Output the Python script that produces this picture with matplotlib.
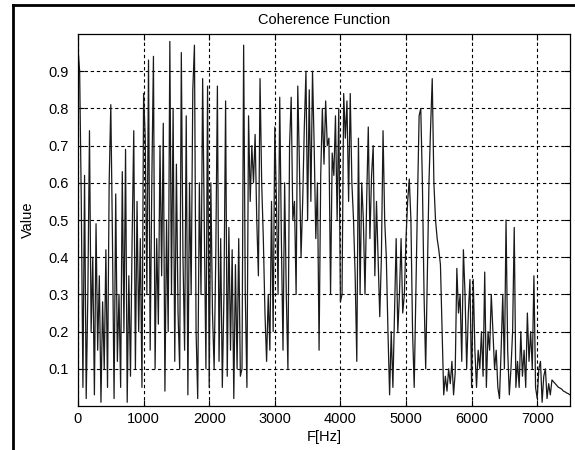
import numpy as np
import matplotlib
matplotlib.use("Agg")
import matplotlib.pyplot as plt
from matplotlib.lines import Line2D

plt.rcParams['font.family'] = ['Liberation Sans', 'DejaVu Sans']

# Coherence values, one every 25 Hz from 0 to 7500 Hz
freq_step = 25
coherence = [
    # 0 - 475
    0.96, 0.90, 0.55, 0.05, 0.62, 0.02, 0.30, 0.74, 0.20, 0.40,
    0.03, 0.49, 0.15, 0.35, 0.01, 0.28, 0.10, 0.42, 0.05, 0.60,
    # 500 - 975
    0.81, 0.45, 0.02, 0.57, 0.12, 0.30, 0.05, 0.63, 0.20, 0.69,
    0.01, 0.35, 0.08, 0.45, 0.74, 0.10, 0.55, 0.20, 0.45, 0.05,
    # 1000 - 1475
    0.84, 0.72, 0.30, 0.93, 0.15, 0.60, 0.94, 0.10, 0.45, 0.22,
    0.70, 0.35, 0.76, 0.04, 0.50, 0.20, 0.98, 0.30, 0.80, 0.12,
    # 1500 - 1975
    0.65, 0.25, 0.10, 0.95, 0.40, 0.15, 0.78, 0.03, 0.60, 0.30,
    0.85, 0.97, 0.20, 0.02, 0.60, 0.30, 0.88, 0.50, 0.10, 0.86,
    # 2000 - 2475
    0.05, 0.60, 0.25, 0.10, 0.40, 0.86, 0.12, 0.45, 0.05, 0.30,
    0.82, 0.08, 0.48, 0.15, 0.42, 0.02, 0.38, 0.10, 0.45, 0.08,
    # 2500 - 2975
    0.10, 0.97, 0.30, 0.05, 0.78, 0.55, 0.70, 0.60, 0.73, 0.50,
    0.35, 0.88, 0.60, 0.45, 0.25, 0.12, 0.30, 0.15, 0.55, 0.20,
    # 3000 - 3475
    0.75, 0.55, 0.30, 0.83, 0.45, 0.15, 0.60, 0.30, 0.10, 0.70,
    0.83, 0.50, 0.55, 0.30, 0.86, 0.65, 0.40, 0.55, 0.75, 0.90,
    # 3500 - 3975
    0.50, 0.85, 0.55, 0.90, 0.70, 0.45, 0.60, 0.15, 0.62, 0.80,
    0.65, 0.82, 0.70, 0.72, 0.30, 0.68, 0.62, 0.78, 0.50, 0.80,
    # 4000 - 4475
    0.28, 0.30, 0.84, 0.72, 0.82, 0.55, 0.84, 0.60, 0.50, 0.35,
    0.12, 0.72, 0.30, 0.60, 0.50, 0.30, 0.55, 0.75, 0.45, 0.62,
    # 4500 - 4975
    0.70, 0.35, 0.55, 0.40, 0.24, 0.40, 0.74, 0.50, 0.40, 0.20,
    0.03, 0.20, 0.05, 0.25, 0.45, 0.20, 0.30, 0.45, 0.25, 0.30,
    # 5000 - 5475
    0.45, 0.55, 0.61, 0.50, 0.20, 0.05, 0.30, 0.55, 0.78, 0.80,
    0.60, 0.30, 0.10, 0.35, 0.60, 0.75, 0.88, 0.60, 0.50, 0.45,
    # 5500 - 5975
    0.42, 0.38, 0.20, 0.03, 0.08, 0.04, 0.10, 0.06, 0.12, 0.03,
    0.09, 0.37, 0.25, 0.30, 0.12, 0.42, 0.30, 0.10, 0.25, 0.34,
    # 6000 - 6475
    0.05, 0.34, 0.15, 0.05, 0.15, 0.10, 0.20, 0.08, 0.36, 0.05,
    0.20, 0.15, 0.30, 0.20, 0.10, 0.15, 0.05, 0.02, 0.15, 0.30,
    # 6500 - 6975
    0.10, 0.50, 0.15, 0.03, 0.10, 0.20, 0.48, 0.05, 0.12, 0.05,
    0.20, 0.08, 0.15, 0.05, 0.25, 0.12, 0.20, 0.10, 0.35, 0.05,
    # 7000 - 7500
    0.02, 0.10, 0.12, 0.01, 0.08, 0.10, 0.02, 0.06, 0.03, 0.07,
    0.065, 0.06, 0.055, 0.05, 0.048, 0.045, 0.04, 0.038, 0.035, 0.033,
    0.03,
]
freqs = np.arange(len(coherence)) * freq_step

x_ticks = [0, 1000, 2000, 3000, 4000, 5000, 6000, 7000]
y_ticks = [0.1, 0.2, 0.3, 0.4, 0.5, 0.6, 0.7, 0.8, 0.9]
y_tick_labels = ['0.1', '0.2', '0.3', '0.4', '0.5', '0.6', '0.7', '0.8', '0.9']

fig = plt.figure(figsize=(5.75, 4.5), dpi=100)
fig.patch.set_facecolor('white')
ax = fig.add_axes([78/575, 1-406/450, (570-78)/575, (406-34)/450])

ax.plot(freqs, coherence, color='#1a1a1a', lw=0.9)
ax.set_xlim(0, 7500)
ax.set_ylim(0, 1.0)
ax.set_xticks(x_ticks)
ax.set_xticklabels([str(t) for t in x_ticks])
ax.set_yticks(y_ticks)
ax.set_yticklabels(y_tick_labels)
ax.grid(True, color='black', linestyle=(0, (3, 2.5)), lw=0.8)
ax.tick_params(direction='in', length=4, labelsize=10.5, top=True, right=True,
               colors='black', width=0.8)
ax.tick_params(axis='y', pad=7)
ax.tick_params(axis='x', pad=4)
for s in ax.spines.values():
    s.set_linewidth(0.9)
    s.set_color('black')

ax.set_title('Coherence Function', fontsize=10.5, pad=7)
ax.set_xlabel('F[Hz]', fontsize=10.5, labelpad=3)
ax.set_ylabel('Value', fontsize=10.5, labelpad=9)

# outer window frame (left and top edges visible)
fig.add_artist(Line2D([13/575, 13/575], [0, 1-5/450], color='black', lw=2,
                      transform=fig.transFigure))
fig.add_artist(Line2D([13/575, 1], [1-5/450, 1-5/450], color='black', lw=2,
                      transform=fig.transFigure))

fig.savefig('out.png', dpi=100, facecolor='white')
